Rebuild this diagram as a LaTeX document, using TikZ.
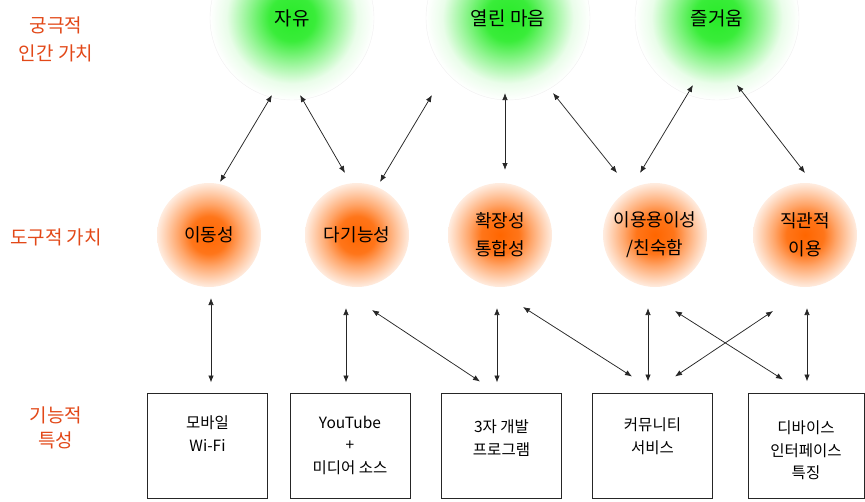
\documentclass[tikz,border=0pt]{standalone}
\usepackage{fontspec}
\setmainfont{Noto Sans CJK KR}
\usetikzlibrary{arrows.meta,calc}
\definecolor{gC}{RGB}{40,235,40}
\definecolor{oC}{RGB}{255,102,0}
\definecolor{lblC}{RGB}{226,72,24}
\pgfdeclareradialshading{greenglow}{\pgfpoint{0bp}{0bp}}{color(0bp)=(gC); color(7bp)=(gC!92!white); color(13.5bp)=(gC!50!white); color(20bp)=(gC!10!white); color(25bp)=(white); color(50bp)=(white)}
\pgfdeclareradialshading{orangeglow}{\pgfpoint{0bp}{0bp}}{color(0bp)=(oC); color(9bp)=(oC!90!white); color(15bp)=(oC!58!white); color(21bp)=(oC!30!white); color(25bp)=(oC!12!white); color(50bp)=(white)}
\tikzset{
 gcirc/.style={circle, minimum size=164pt, inner sep=0pt, shading=greenglow, draw=black!6, font=\fontsize{19}{23}\selectfont},
 ocirc/.style={circle, minimum size=104pt, inner sep=0pt, shading=orangeglow, align=center, font=\fontsize{18}{28}\selectfont},
 funcbox/.style={draw=black!85, line width=1pt, minimum height=105pt, minimum width=120pt, inner sep=0pt},
 ftext/.style={align=center, inner sep=0pt, anchor=north, font=\fontsize{15.5}{22.5}\selectfont},
 lvl/.style={align=center, text=lblC, font=\fontsize{19}{28}\selectfont},
 arr/.style={{Latex[length=7pt,width=5.5pt]}-{Latex[length=7pt,width=5.5pt]}, line width=0.75pt, black!85}
}
\begin{document}
\begin{tikzpicture}[x=1pt,y=-1pt]
\useasboundingbox (0,0) rectangle (865,501);
\clip (0,0) rectangle (865,501);
% level labels
\node[lvl] (l1) at (56,39) {궁극적\\인간 가치};
\node[lvl] (l2) at (56,237) {도구적 가치};
\node[lvl, font=\fontsize{19}{25}\selectfont] (l3) at (56,428) {기능적\\특성};
% ultimate values
\node[gcirc] (g1) at (292,18) {자유};
\node[gcirc] (g2) at (508,18) {열린 마음};
\node[gcirc] (g3) at (717,18) {즐거움};
% instrumental values
\node[ocirc] (o1) at (209,235) {이동성};
\node[ocirc] (o2) at (357,235) {다기능성};
\node[ocirc] (o3) at (500,235) {확장성\\통합성};
\node[ocirc] (o4) at (655,235) {이용용이성\\/친숙함};
\node[ocirc] (o5) at (805,235) {직관적\\이용};
% functional boxes
\node[funcbox] (b1) at (207.5,445.5) {};
\node[funcbox] (b2) at (350,445.5) {};
\node[funcbox] (b3) at (501.5,445.5) {};
\node[funcbox] (b4) at (652.5,445.5) {};
\node[funcbox, minimum width=116pt] (b5) at (806,445.5) {};
\node[ftext] (t1) at ($(b1.north)+(0,23)$) {모바일\\Wi-Fi};
\node[ftext] (t2) at ($(b2.north)+(0,23)$) {YouTube\\+\\미디어 소스};
\node[ftext] (t3) at ($(b3.north)+(0,27)$) {3자 개발\\프로그램};
\node[ftext] (t4) at ($(b4.north)+(0,25)$) {커뮤니티\\서비스};
\node[ftext] (t5) at ($(b5.north)+(0,28)$) {디바이스\\인터페이스\\특징};
% upper connectors
\draw[arr] ($(g1)+(-20,77)$) -- ($(o1)+(11,-53)$);
\draw[arr] ($(g1)+(8,77)$) -- ($(o2)+(-12,-62)$);
\draw[arr] ($(g2)+(-76,77)$) -- ($(o2)+(23,-53)$);
\draw[arr] ($(g2)+(-3,75)$) -- ($(o3)+(5,-65)$);
\draw[arr] ($(g2)+(45,75)$) -- ($(o4)+(-38,-62)$);
\draw[arr] ($(g3)+(-24,67)$) -- ($(o4)+(-15,-62)$);
\draw[arr] ($(g3)+(20,67)$) -- ($(o5)+(0,-62)$);
% lower connectors
\draw[arr] ($(o1)+(2,63)$) -- ($(b1.north)+(3.5,-10)$);
\draw[arr] ($(o2)+(-11,73)$) -- ($(b2.north)+(-4,-10)$);
\draw[arr] ($(o2)+(15,75)$) -- ($(b3.north)+(-21.5,-11)$);
\draw[arr] ($(o3)+(-3,73)$) -- ($(b3.north)+(-4.5,-10)$);
\draw[arr] ($(o3)+(23,72)$) -- ($(b4.north)+(-20.5,-16)$);
\draw[arr] ($(o4)+(-7,73)$) -- ($(b4.north)+(-4.5,-11)$);
\draw[arr] ($(o4)+(20,76)$) -- ($(b5.north)+(-23,-13)$);
\draw[arr] ($(o5)+(-32,76)$) -- ($(b4.north)+(22.5,-16)$);
\draw[arr] ($(o5)+(2,73)$) -- ($(b5.north)+(1,-11)$);
\end{tikzpicture}
\end{document}
